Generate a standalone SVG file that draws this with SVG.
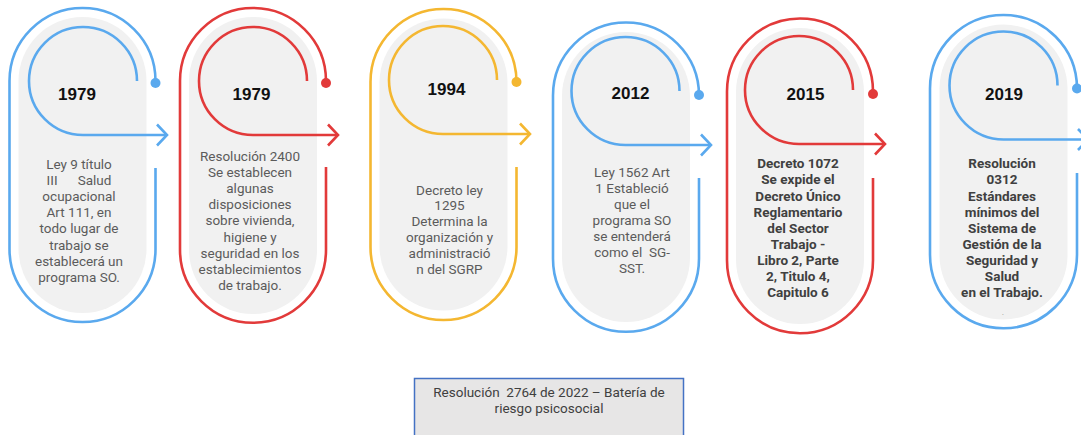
<svg xmlns="http://www.w3.org/2000/svg" width="1081" height="435" viewBox="0 0 1081 435">
<defs>
<style>
.bg{fill:#f1f1f1}
.o{fill:none;stroke-width:2.6}
.i{fill:none;stroke-width:2.6}
.blue{stroke:#5aa9ee}
.red{stroke:#e23a3a}
.yel{stroke:#f4b731}
.db{fill:#5aa9ee}
.dr{fill:#e23a3a}
.dy{fill:#f4b731}
.yr{font-family:"Liberation Sans",Arial,sans-serif;font-weight:bold;font-size:17px;fill:#111;text-anchor:middle}
.tx{font-family:Roboto,"Liberation Sans",sans-serif;font-size:13.5px;fill:#5b5b5b;text-anchor:middle}
.tb{font-family:Roboto,"Liberation Sans",sans-serif;font-size:13.5px;font-weight:bold;fill:#404040;text-anchor:middle}
.note{font-family:Roboto,"Liberation Sans",sans-serif;font-size:13.5px;fill:#404040;text-anchor:middle}
</style>
<marker id="ab" markerUnits="userSpaceOnUse" markerWidth="30" markerHeight="30" viewBox="-15 -15 30 30" refX="0" refY="0" orient="auto" overflow="visible"><path d="M-10,-10.5 L0,0 L-10,10.5" fill="none" stroke="#5aa9ee" stroke-width="2.6"/></marker>
<marker id="ar" markerUnits="userSpaceOnUse" markerWidth="30" markerHeight="30" viewBox="-15 -15 30 30" refX="0" refY="0" orient="auto" overflow="visible"><path d="M-10,-10.5 L0,0 L-10,10.5" fill="none" stroke="#e23a3a" stroke-width="2.6"/></marker>
<marker id="ay" markerUnits="userSpaceOnUse" markerWidth="30" markerHeight="30" viewBox="-15 -15 30 30" refX="0" refY="0" orient="auto" overflow="visible"><path d="M-10,-10.5 L0,0 L-10,10.5" fill="none" stroke="#f4b731" stroke-width="2.6"/></marker>
</defs>
<rect width="1081" height="435" fill="#ffffff"/>

<g id="node-1979a">
<rect class="bg" x="18.5" y="17" width="128" height="296" rx="64"/>
<path class="o blue" d="M155.5,83 L155.5,81 A73,73 0 0 0 9.5,81 L9.5,249 A73,73 0 0 0 155.5,249 L155.5,168"/>
<circle class="db" cx="155.5" cy="83" r="5"/>
<text class="yr" x="77" y="100">1979</text>
<text class="tx"><tspan x="79" y="169">Ley 9 título</tspan><tspan x="79" dy="16.1">III&#160;&#160;&#160;&#160;&#160; Salud</tspan><tspan x="79" dy="16.1">ocupacional</tspan><tspan x="79" dy="16.1">Art 111, en</tspan><tspan x="79" dy="16.1">todo lugar de</tspan><tspan x="79" dy="16.1">trabajo se</tspan><tspan x="79" dy="16.1">establecerá un</tspan><tspan x="79" dy="16.1">programa SO.</tspan></text>
</g>

<g id="node-1979b">
<rect class="bg" x="189" y="17" width="128" height="297" rx="64"/>
<path class="o red" d="M326,83 L326,81 A73,73 0 0 0 180,81 L180,249.7 A73,73 0 0 0 326,249.7 L326,167"/>
<circle class="dr" cx="326" cy="83" r="5"/>
<text class="yr" x="251.5" y="100">1979</text>
<text class="tx"><tspan x="250" y="161">Resolución 2400</tspan><tspan x="250" dy="16.1">Se establecen</tspan><tspan x="250" dy="16.1">algunas</tspan><tspan x="250" dy="16.1">disposiciones</tspan><tspan x="250" dy="16.1">sobre vivienda,</tspan><tspan x="250" dy="16.1">higiene y</tspan><tspan x="250" dy="16.1">seguridad en los</tspan><tspan x="250" dy="16.1">establecimientos</tspan><tspan x="250" dy="16.1">de trabajo.</tspan></text>
</g>

<g id="node-1994">
<rect class="bg" x="379.5" y="18.5" width="128" height="292" rx="64"/>
<path class="o yel" d="M516.5,82 A73,73 0 0 0 370.5,82 L370.5,247 A73,73 0 0 0 516.5,247 L516.5,167"/>
<circle class="dy" cx="516.5" cy="82" r="5"/>
<text class="yr" x="446.5" y="94.5">1994</text>
<text class="tx"><tspan x="449.5" y="194.5">Decreto ley</tspan><tspan x="449.5" dy="15.8">1295</tspan><tspan x="449.5" dy="15.8">Determina la</tspan><tspan x="449.5" dy="15.8">organización y</tspan><tspan x="449.5" dy="15.8">administració</tspan><tspan x="449.5" dy="15.8">n del SGRP</tspan></text>
</g>

<g id="node-2012">
<rect class="bg" x="562" y="32" width="128" height="290" rx="64"/>
<path class="o blue" d="M699,95.5 A73,73 0 0 0 553,95.5 L553,258.7 A73,73 0 0 0 699,258.7 L699,178"/>
<circle class="db" cx="699" cy="95" r="5"/>
<text class="yr" x="630.5" y="98.5">2012</text>
<text class="tx"><tspan x="632" y="176.7">Ley 1562 Art</tspan><tspan x="632" dy="16.1">1 Estableció</tspan><tspan x="632" dy="16.1">que el</tspan><tspan x="632" dy="16.1">programa SO</tspan><tspan x="632" dy="16.1">se entenderá</tspan><tspan x="632" dy="16.1">como el&#160; SG-</tspan><tspan x="632" dy="16.1">SST.</tspan></text>
</g>

<g id="node-2015">
<rect class="bg" x="736" y="28" width="128" height="296" rx="64"/>
<path class="o red" d="M873,94 L873,91.5 A73,73 0 0 0 727,91.5 L727,260.3 A73,73 0 0 0 873,260.3 L873,178"/>
<circle class="dr" cx="873" cy="94" r="5"/>
<text class="yr" x="805.5" y="99.5">2015</text>
<text class="tb"><tspan x="798" y="168.3">Decreto 1072</tspan><tspan x="798" dy="16.1">Se expide el</tspan><tspan x="798" dy="16.1">Decreto Único</tspan><tspan x="798" dy="16.1">Reglamentario</tspan><tspan x="798" dy="16.1">del Sector</tspan><tspan x="798" dy="16.1">Trabajo -</tspan><tspan x="798" dy="16.1">Libro 2, Parte</tspan><tspan x="798" dy="16.1">2, Titulo 4,</tspan><tspan x="798" dy="16.1">Capitulo 6</tspan></text>
</g>

<g id="node-2019">
<rect class="bg" x="939.5" y="24.5" width="128" height="295" rx="64"/>
<path class="o blue" d="M1077,88.5 A73.5,73.5 0 0 0 930,88.5 L930,254.8 A73.5,73.5 0 0 0 1077,254.8 L1077,173"/>
<circle class="db" cx="1077" cy="88.5" r="5"/>
<text class="yr" x="1004" y="99.5">2019</text>
<text class="tb"><tspan x="1002" y="168.3">Resolución</tspan><tspan x="1002" dy="16.1">0312</tspan><tspan x="1002" dy="16.1">Estándares</tspan><tspan x="1002" dy="16.1">mínimos del</tspan><tspan x="1002" dy="16.1">Sistema de</tspan><tspan x="1002" dy="16.1">Gestión de la</tspan><tspan x="1002" dy="16.1">Seguridad y</tspan><tspan x="1002" dy="16.1">Salud</tspan><tspan x="1002" dy="16.1">en el Trabajo.</tspan></text>
<text class="tx" x="1003" y="315" style="font-size:9px;fill:#999">.</text>
</g>

<g id="connectors">
<path class="i blue" d="M137,81 A54,54 0 1 0 83,135 L167,135" marker-end="url(#ab)"/>
<path class="i red" d="M307,81 A54,54 0 1 0 253,135 L338,135" marker-end="url(#ar)"/>
<path class="i yel" d="M497,80 A54,54 0 1 0 443,134 L530,134" marker-end="url(#ay)"/>
<path class="i blue" d="M679.5,91 A54,54 0 1 0 625.5,145 L711,145" marker-end="url(#ab)"/>
<path class="i red" d="M853,90 A54,54 0 1 0 799,144 L885,144" marker-end="url(#ar)"/>
<path class="i blue" d="M1057.5,85.5 A54,54 0 1 0 1003.5,139.5 L1088,139.5" marker-end="url(#ab)"/>
</g>

<g id="node-2022">
<rect x="414.5" y="378.5" width="269" height="70" fill="#e7e6e6" stroke="#4472c4" stroke-width="1.5"/>
<text class="note"><tspan x="549" y="397">Resolución&#160; 2764 de 2022 – Batería de</tspan><tspan x="549" y="413.3">riesgo psicosocial</tspan></text>
</g>
</svg>
